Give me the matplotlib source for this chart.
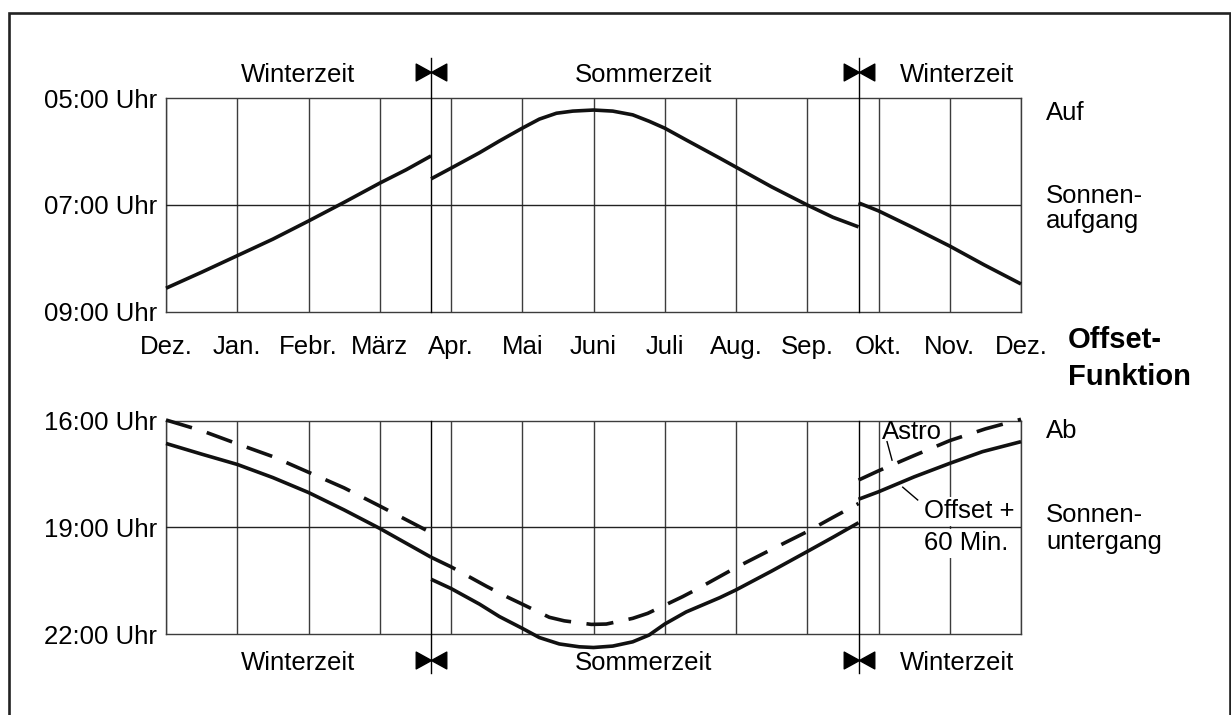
import matplotlib.pyplot as plt
from matplotlib.path import Path
from matplotlib.patches import Rectangle
from matplotlib.transforms import blended_transform_factory

plt.rcParams['font.family'] = ['Liberation Sans', 'DejaVu Sans']

# x in Monaten ab Dez. (0 = Dez., 12 = Dez.), y in Stunden
months = ['Dez.', 'Jan.', 'Febr.', 'März', 'Apr.', 'Mai', 'Juni',
          'Juli', 'Aug.', 'Sep.', 'Okt.', 'Nov.', 'Dez.']
dst_start = 3.72
dst_end = 9.72

# Sonnenaufgang
rise_w1_x = [0, 0.5, 1, 1.5, 2, 2.5, 3, 3.37, 3.72]
rise_w1_y = [8.56, 8.26, 7.95, 7.64, 7.30, 6.95, 6.59, 6.34, 6.08]
rise_s_x = [3.72, 4, 4.40, 4.68, 5.0, 5.24, 5.48, 5.71, 6.0, 6.27, 6.55, 6.78,
            7.0, 7.30, 7.77, 8.0, 8.5, 9.0, 9.36, 9.72]
rise_s_y = [6.51, 6.31, 6.02, 5.80, 5.56, 5.39, 5.28, 5.24, 5.22, 5.24, 5.31, 5.43,
            5.56, 5.78, 6.12, 6.29, 6.66, 7.00, 7.23, 7.41]
rise_w2_x = [9.72, 10, 10.48, 11, 11.48, 12]
rise_w2_y = [6.96, 7.11, 7.42, 7.77, 8.12, 8.48]

# Sonnenuntergang, Astro (gestrichelt)
astro_w1_x = [0, 0.5, 1, 1.5, 2, 2.5, 3, 3.72]
astro_w1_y = [15.98, 16.28, 16.65, 17.01, 17.45, 17.89, 18.40, 19.15]
astro_s_x = [3.72, 4, 4.5, 4.78, 5.0, 5.38, 5.59, 5.97, 6.18, 6.55, 6.76, 7.0,
             7.25, 7.46, 8.0, 8.5, 9.0, 9.36, 9.72]
astro_s_y = [19.84, 20.11, 20.66, 20.95, 21.16, 21.53, 21.63, 21.73, 21.72, 21.56, 21.42, 21.19,
             20.95, 20.73, 20.13, 19.62, 19.12, 18.72, 18.33]
astro_w2_x = [9.72, 10, 10.5, 11, 11.5, 12]
astro_w2_y = [17.67, 17.41, 16.98, 16.56, 16.23, 15.96]

# Sonnenuntergang, Offset + 60 Min. (durchgezogen)
offs_w1_x = [0, 0.5, 1, 1.5, 2, 2.5, 3, 3.72]
offs_w1_y = [16.64, 16.94, 17.23, 17.60, 18.02, 18.51, 19.03, 19.84]
offs_s_x = [3.72, 4, 4.40, 4.68, 5.0, 5.24, 5.52, 5.80, 6.0, 6.27, 6.55, 6.78,
            7.0, 7.30, 7.77, 8.0, 8.5, 9.0, 9.36, 9.72]
offs_s_y = [20.46, 20.72, 21.16, 21.51, 21.84, 22.10, 22.28, 22.36, 22.38, 22.34, 22.22, 22.03,
            21.72, 21.38, 20.98, 20.76, 20.23, 19.68, 19.28, 18.87]
offs_w2_x = [9.72, 10, 10.5, 11, 11.46, 12]
offs_w2_y = [18.21, 18.00, 17.58, 17.20, 16.87, 16.59]

W, H = 1231, 715
fig = plt.figure(figsize=(W / 100, H / 100), dpi=100)


def add_axes_px(left, top, right, bottom):
    return fig.add_axes([left / W, 1 - bottom / H, (right - left) / W, (bottom - top) / H])


ax1 = add_axes_px(166, 98.3, 1021, 311.7)
ax2 = add_axes_px(166, 420.7, 1021, 634)

GRID = '#3c3c3c'
FS = 18.5

for ax in (ax1, ax2):
    ax.set_xlim(0, 12)
    ax.set_xticks(range(13))
    ax.set_axisbelow(True)
    ax.grid(axis='x', color=GRID, lw=1.0)
    ax.tick_params(length=0, labelsize=FS)
    ax.tick_params(axis='y', pad=6.5)
    for s in ax.spines.values():
        s.set_color(GRID)
        s.set_linewidth(1.0)

ax1.set_ylim(9, 5)
ax1.set_yticks([5, 7, 9], ['05:00 Uhr', '07:00 Uhr', '09:00 Uhr'])
ax1.set_xticklabels(months)
ax1.tick_params(axis='x', pad=16.5)
ax1.axhline(7, color='#222222', lw=1.0, zorder=5)

ax2.set_ylim(22, 16)
ax2.set_yticks([16, 19, 22], ['16:00 Uhr', '19:00 Uhr', '22:00 Uhr'])
ax2.tick_params(axis='x', labelbottom=False)
ax2.axhline(19, color='#222222', lw=1.0, zorder=5)

LW = 2.6
line_kw = dict(color='#111111', lw=LW, clip_on=False, zorder=6,
               solid_capstyle='butt', solid_joinstyle='round')
for xs, ys in [(rise_w1_x, rise_w1_y), (rise_s_x, rise_s_y), (rise_w2_x, rise_w2_y)]:
    ax1.plot(xs, ys, **line_kw)
for xs, ys in [(offs_w1_x, offs_w1_y), (offs_s_x, offs_s_y), (offs_w2_x, offs_w2_y)]:
    ax2.plot(xs, ys, **line_kw)
for xs, ys in [(astro_w1_x, astro_w1_y), (astro_s_x, astro_s_y), (astro_w2_x, astro_w2_y)]:
    ax2.plot(xs, ys, dashes=(7.5, 4.3), dash_capstyle='butt', **line_kw)

# Umschaltung Sommer-/Winterzeit
bowtie = Path([(-1, 0.55), (0, 0), (1, 0.55), (1, -0.55), (0, 0), (-1, -0.55), (-1, 0.55)],
              [Path.MOVETO] + [Path.LINETO] * 5 + [Path.CLOSEPOLY])
t1 = blended_transform_factory(ax1.transData, ax1.transAxes)
t2 = blended_transform_factory(ax2.transData, ax2.transAxes)
for x in (dst_start, dst_end):
    ax1.axvline(x, ymin=0, ymax=1.19, color='black', lw=1.0, clip_on=False, zorder=3)
    ax2.axvline(x, ymin=-0.183, ymax=1, color='black', lw=1.0, clip_on=False, zorder=3)
    ax1.plot([x], [1.121], transform=t1, marker=bowtie, ms=22, color='black',
             ls='none', clip_on=False)
    ax2.plot([x], [-0.122], transform=t2, marker=bowtie, ms=22, color='black',
             ls='none', clip_on=False)

season_x = [1.85, 6.70, 11.1]
season_names = ['Winterzeit', 'Sommerzeit', 'Winterzeit']
for x, name in zip(season_x, season_names):
    ax1.text(x, 1.076, name, transform=t1, ha='center', va='baseline', fontsize=FS)
    ax2.text(x, -0.169, name, transform=t2, ha='center', va='baseline', fontsize=FS)

# Beschriftung Astro / Offset
ax2.text(10.05, 16.52, 'Astro', fontsize=FS, va='baseline', ha='left', zorder=7)
ax2.plot([10.12, 10.19], [16.59, 17.11], color='black', lw=1.0, zorder=7)
box = dict(boxstyle='square,pad=0.1', fc='white', ec='none')
ax2.text(10.64, 18.74, 'Offset +', fontsize=FS, va='baseline', ha='left', bbox=box, zorder=4)
ax2.text(10.64, 19.64, '60 Min.', fontsize=FS, va='baseline', ha='left', bbox=box, zorder=4)
ax2.plot([10.34, 10.55], [17.87, 18.23], color='black', lw=1.0, zorder=7)


def ftext(px, py, s, **kw):
    fig.text(px / W, 1 - py / H, s, va='baseline', ha='left', **kw)


ftext(1046, 120, 'Auf', fontsize=FS)
ftext(1046, 203, 'Sonnen-', fontsize=FS)
ftext(1046, 228, 'aufgang', fontsize=FS)
ftext(1068, 348, 'Offset-', fontsize=21, fontweight='bold')
ftext(1068, 385, 'Funktion', fontsize=21, fontweight='bold')
ftext(1046, 438, 'Ab', fontsize=FS)
ftext(1046, 522, 'Sonnen-', fontsize=FS)
ftext(1046, 549, 'untergang', fontsize=FS)

# Rahmen
fig.patches.append(Rectangle((8.5 / W, -0.05), (1229.5 - 8.5) / W, 1.05 - 12.5 / H,
                             transform=fig.transFigure, fill=False, lw=1.9, ec='#222222'))

fig.savefig('out.png', dpi=100)
